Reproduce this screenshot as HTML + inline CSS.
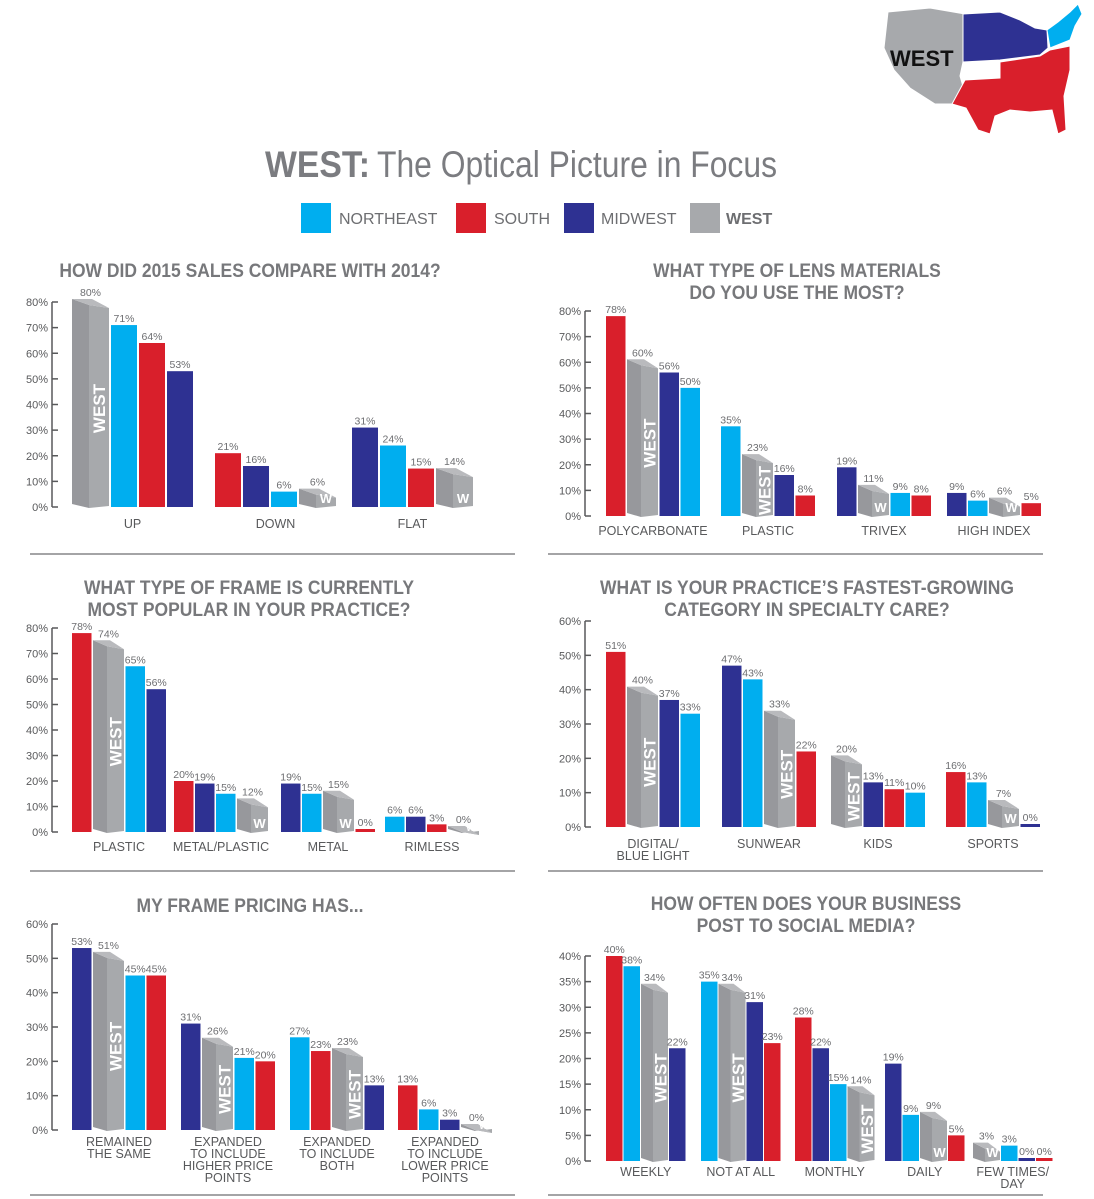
<!DOCTYPE html>
<html><head><meta charset="utf-8">
<style>
body{margin:0;background:#fff;}
svg{display:block;font-family:"Liberation Sans",sans-serif;}
.tick{font-size:11px;fill:#58595b;}
.val{font-size:10.5px;fill:#6d6e71;}
.cat{font-size:12.5px;fill:#58595b;}
.ptitle{font-family:"Liberation Sans Narrow","Liberation Sans",sans-serif;font-size:19px;font-weight:bold;fill:#77787b;}
</style></head>
<body>
<svg id="chart" width="1094" height="1199" viewBox="0 0 1094 1199" xmlns="http://www.w3.org/2000/svg">
<g>
<polygon points="888,12 930,8 965,14 963,62 960,76 968,104 935,104 910,88 894,70 884,48" fill="#a7a9ac" stroke="#fff" stroke-width="1"/>
<polygon points="963,14 1000,12 1020,20 1035,28 1047,30 1048,48 1040,55 1000,60 963,62" fill="#2e3192" stroke="#fff" stroke-width="1"/>
<polygon points="1047,30 1058,22 1070,12 1078,4 1082,14 1075,26 1070,40 1050,48" fill="#00aeef" stroke="#fff" stroke-width="1"/>
<polygon points="965,80 1000,78 1000,62 1040,56 1050,50 1070,46 1070,70 1064,96 1066,130 1058,134 1052,110 1030,112 1010,110 995,116 990,134 978,130 966,108 952,104" fill="#d91f2b" stroke="#fff" stroke-width="1"/>
<text x="890" y="66" font-size="22" font-weight="bold" fill="#111">WEST</text>
</g>
<text x="265" y="177" font-size="37" font-weight="bold" fill="#7b7c80" textLength="105" lengthAdjust="spacingAndGlyphs">WEST:</text>
<text x="377" y="177" font-size="37" fill="#7b7c80" textLength="400" lengthAdjust="spacingAndGlyphs">The Optical Picture in Focus</text>
<g>
<rect x="301" y="203" width="30" height="30" fill="#00aeef"/>
<text x="339" y="224" font-size="16" fill="#6d6e71">NORTHEAST</text>
<rect x="456" y="203" width="30" height="30" fill="#d91f2b"/>
<text x="494" y="224" font-size="16" fill="#6d6e71">SOUTH</text>
<rect x="564" y="203" width="30" height="30" fill="#2e3192"/>
<text x="601" y="224" font-size="16" fill="#6d6e71">MIDWEST</text>
<rect x="690" y="203" width="30" height="30" fill="#a7a9ac"/>
<text x="726" y="224" font-size="16" font-weight="bold" fill="#6d6e71">WEST</text>
</g>
<g stroke="#6d6e71" stroke-width="1.2">
<line x1="30" y1="554" x2="515" y2="554"/><line x1="548" y1="554" x2="1043" y2="554"/>
<line x1="30" y1="871" x2="515" y2="871"/><line x1="548" y1="871" x2="1043" y2="871"/>
<line x1="30" y1="1195" x2="515" y2="1195"/><line x1="548" y1="1195" x2="1043" y2="1195"/>
</g>
</svg>
<script>
// ---- data ----
const p1Cats=[["UP"],["DOWN"],["FLAT"]];
const p1West=[80,6,14], p1Northeast=[71,6,24], p1South=[64,21,15], p1Midwest=[53,16,31];
const p1Order=[["W","NE","S","MW"],["S","MW","NE","W"],["MW","NE","S","W"]];
const p1Ticks=[0,10,20,30,40,50,60,70,80];

const p2Cats=[["POLYCARBONATE"],["PLASTIC"],["TRIVEX"],["HIGH INDEX"]];
const p2South=[78,8,8,5], p2West=[60,23,11,6], p2Midwest=[56,16,19,9], p2Northeast=[50,35,9,6];
const p2Order=[["S","W","MW","NE"],["NE","W","MW","S"],["MW","W","NE","S"],["MW","NE","W","S"]];
const p2Ticks=[0,10,20,30,40,50,60,70,80];

const p3Cats=[["PLASTIC"],["METAL/PLASTIC"],["METAL"],["RIMLESS"]];
const p3South=[78,20,0,3], p3West=[74,12,15,0], p3Northeast=[65,15,15,6], p3Midwest=[56,19,19,6];
const p3Order=[["S","W","NE","MW"],["S","MW","NE","W"],["MW","NE","W","S"],["NE","MW","S","W"]];
const p3Ticks=[0,10,20,30,40,50,60,70,80];

const p4Cats=[["DIGITAL/","BLUE LIGHT"],["SUNWEAR"],["KIDS"],["SPORTS"]];
const p4South=[51,22,11,16], p4West=[40,33,20,7], p4Midwest=[37,47,13,0], p4Northeast=[33,43,10,13];
const p4Order=[["S","W","MW","NE"],["MW","NE","W","S"],["W","MW","S","NE"],["S","NE","W","MW"]];
const p4Ticks=[0,10,20,30,40,50,60];

const p5Cats=[["REMAINED","THE SAME"],["EXPANDED","TO INCLUDE","HIGHER PRICE","POINTS"],["EXPANDED","TO INCLUDE","BOTH"],["EXPANDED","TO INCLUDE","LOWER PRICE","POINTS"]];
const p5Midwest=[53,31,13,3], p5West=[51,26,23,0], p5Northeast=[45,21,27,6], p5South=[45,20,23,13];
const p5Order=[["MW","W","NE","S"],["MW","W","NE","S"],["NE","S","W","MW"],["S","NE","MW","W"]];
const p5Ticks=[0,10,20,30,40,50,60];

const p6Cats=[["WEEKLY"],["NOT AT ALL"],["MONTHLY"],["DAILY"],["FEW TIMES/","DAY"]];
const p6South=[40,23,28,5,0], p6Northeast=[38,35,15,9,3], p6West=[34,34,14,9,3], p6Midwest=[22,31,22,19,0];
const p6Order=[["S","NE","W","MW"],["NE","W","MW","S"],["S","MW","NE","W"],["MW","NE","W","S"],["W","NE","MW","S"]];
const p6Ticks=[0,5,10,15,20,25,30,35,40];

// ---- layout ----
const COL={NE:"#00aeef",S:"#d91f2b",MW:"#2e3192"};
const NAMES={NE:"northeast",S:"south",MW:"midwest",W:"west"};
const svg=document.getElementById('chart');
const NS="http://www.w3.org/2000/svg";
function mk(tag,attrs,parent){const e=document.createElementNS(NS,tag);for(const k in attrs)e.setAttribute(k,attrs[k]);(parent||svg).appendChild(e);return e;}

const panels=[
 {id:"sales",title:["HOW DID 2015 SALES COMPARE WITH 2014?"],tx:250,ty:277,cats:p1Cats,ser:{W:p1West,NE:p1Northeast,S:p1South,MW:p1Midwest},order:p1Order,ticks:p1Ticks,ax:52,top:302,base:507,starts:[72,215,352],bw:26,ww:37,gap:2,ly:528},
 {id:"lens",title:["WHAT TYPE OF LENS MATERIALS","DO YOU USE THE MOST?"],tx:797,ty:277,cats:p2Cats,ser:{W:p2West,NE:p2Northeast,S:p2South,MW:p2Midwest},order:p2Order,ticks:p2Ticks,ax:585,top:311,base:516,starts:[606,721,837,947],bw:19.5,ww:31,gap:1.5,ly:535},
 {id:"frame",title:["WHAT TYPE OF FRAME IS CURRENTLY","MOST POPULAR IN YOUR PRACTICE?"],tx:249,ty:594,cats:p3Cats,ser:{W:p3West,NE:p3Northeast,S:p3South,MW:p3Midwest},order:p3Order,ticks:p3Ticks,ax:52,top:628,base:832,starts:[72,174,281,385],bw:19.5,ww:31,gap:1.5,ly:851},
 {id:"specialty",title:["WHAT IS YOUR PRACTICE’S FASTEST-GROWING","CATEGORY IN SPECIALTY CARE?"],tx:807,ty:594,cats:p4Cats,ser:{W:p4West,NE:p4Northeast,S:p4South,MW:p4Midwest},order:p4Order,ticks:p4Ticks,ax:585,top:621,base:827,starts:[606,722,831,946],bw:19.5,ww:31,gap:1.5,ly:848},
 {id:"pricing",title:["MY FRAME PRICING HAS..."],tx:250,ty:912,cats:p5Cats,ser:{W:p5West,NE:p5Northeast,S:p5South,MW:p5Midwest},order:p5Order,ticks:p5Ticks,ax:52,top:924,base:1130,starts:[72,181,290,398],bw:19.5,ww:31,gap:1.5,ly:1146},
 {id:"social",title:["HOW OFTEN DOES YOUR BUSINESS","POST TO SOCIAL MEDIA?"],tx:806,ty:910,cats:p6Cats,ser:{W:p6West,NE:p6Northeast,S:p6South,MW:p6Midwest},order:p6Order,ticks:p6Ticks,ax:585,top:956,base:1161,starts:[606,701,795,885,973],bw:16.5,ww:27,gap:1,ly:1176}
];

panels.forEach(p=>{
 const g=mk('g',{});
 
 
 const max=p.ticks[p.ticks.length-1];
 const y=v=>p.base-(v/max)*(p.base-p.top);
 p.title.forEach((t,i)=>{const e=mk('text',{x:p.tx,y:p.ty+i*22,'text-anchor':'middle',class:'ptitle',transform:`translate(${p.tx} 0) scale(0.92 1) translate(${-p.tx} 0)`},g);e.textContent=t;
  
  });
 const axis=mk('line',{x1:p.ax,y1:y(max),x2:p.ax,y2:p.base,stroke:'#58595b','stroke-width':1.5},g);
 
 
 p.ticks.forEach(t=>{
  mk('line',{x1:p.ax,y1:y(t),x2:p.ax+6,y2:y(t),stroke:'#58595b','stroke-width':1.5},g);
  const e=mk('text',{x:p.ax-4,y:y(t)+4,'text-anchor':'end',class:'tick'},g);e.textContent=t+'%';
  
  
 });
 p.cats.forEach((cat,ci)=>{
  let x=p.starts[ci];const x0=x;
  p.order[ci].forEach(k=>{
   const v=p.ser[k][ci];
   if(k==='W'){
    const w=p.ww,h=Math.max(p.base-y(v),3),top=p.base-h,d=Math.round(w*0.45);
    const bg=mk('g',{},g);
    
    
    mk('polygon',{points:`${x},${top-3} ${x+d},${top+3} ${x+d},${p.base+1} ${x},${p.base-3}`,fill:'#97989c'},bg);
    mk('polygon',{points:`${x+d},${top+3} ${x+w},${top+6} ${x+w},${p.base-1} ${x+d},${p.base+1}`,fill:'#a7a9ac'},bg);
    mk('polygon',{points:`${x},${top-3} ${x+w-d},${top-3} ${x+w},${top+6} ${x+d},${top+3}`,fill:'#b9babd'},bg);
    const fx=x+d+(w-d)/2;
    if(h>55){const t=mk('text',{x:fx+6,y:(top+p.base)/2+4,transform:`rotate(-90 ${fx+6} ${(top+p.base)/2+4})`,'text-anchor':'middle','font-size':17,'font-weight':'bold',fill:'#fff'},bg);t.textContent='WEST';}
    else if(v>0){const t=mk('text',{x:fx,y:p.base-4,'text-anchor':'middle','font-size':13,'font-weight':'bold',fill:'#fff'},bg);t.textContent='W';}
    else{const t=mk('text',{x:fx,y:p.base-1,'text-anchor':'middle','font-size':9,'font-weight':'bold',fill:'#fff'},bg);t.textContent='W';}
    const l=mk('text',{x:x+w/2,y:top-6,'text-anchor':'middle',class:'val'},g);l.textContent=v+'%';
    
    
    x+=w+p.gap;
   } else {
    const w=p.bw,h=Math.max(p.base-y(v),3);
    const r=mk('rect',{x:x,y:p.base-h,width:w,height:h,fill:COL[k]},g);
    
    
    const l=mk('text',{x:x+w/2,y:p.base-h-3,'text-anchor':'middle',class:'val'},g);l.textContent=v+'%';
    
    
    x+=w+p.gap;
   }
  });
  const cx=(x0+x-p.gap)/2;
  cat.forEach((line,li)=>{const e=mk('text',{x:cx,y:p.ly+li*12,'text-anchor':'middle',class:'cat'},g);e.textContent=line;
   
   });
 });
});
</script>
</body></html>
